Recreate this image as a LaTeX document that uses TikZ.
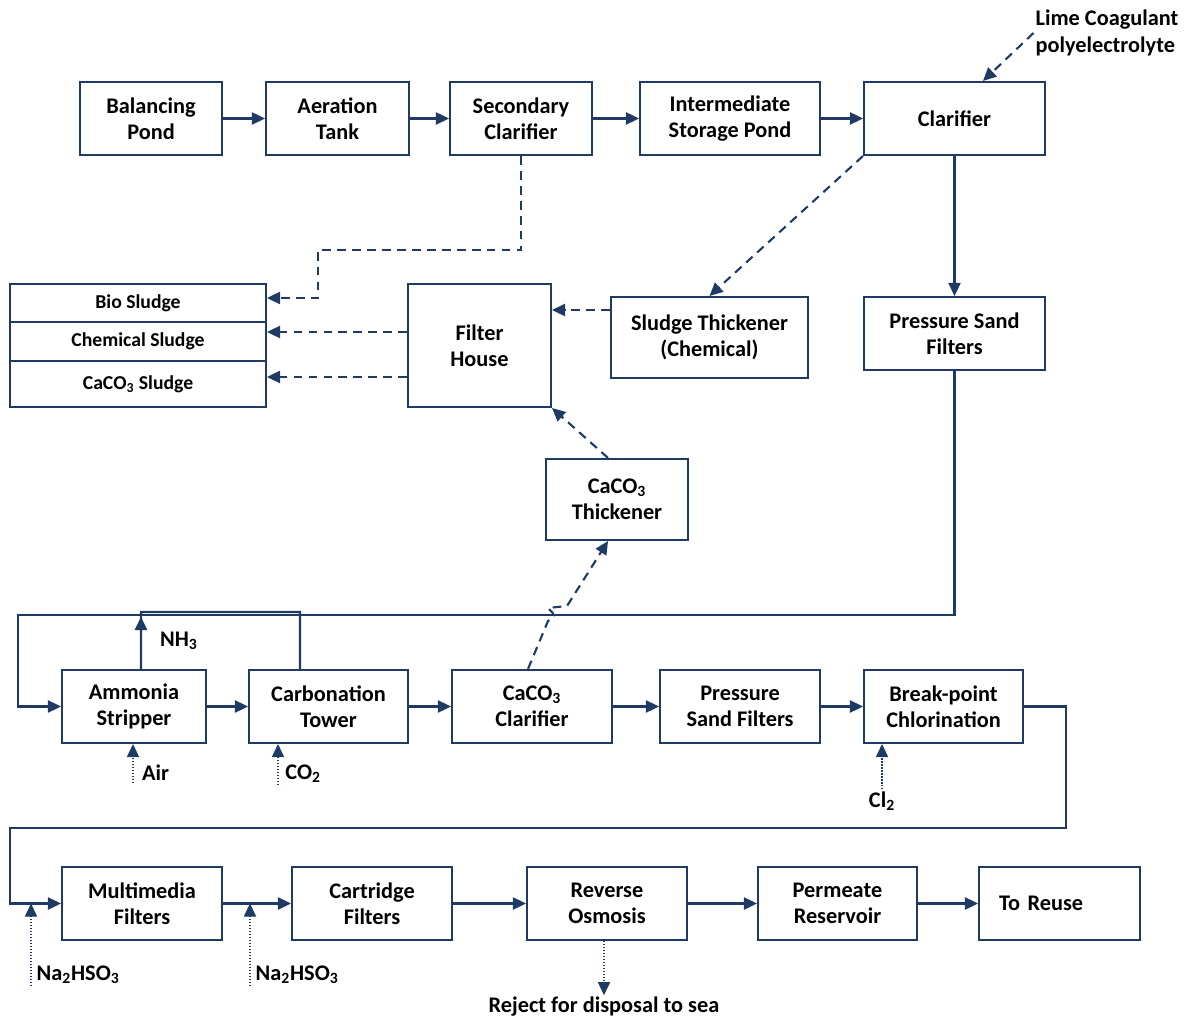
\documentclass[tikz,border=0pt]{standalone}
\usepackage{fontspec}
\setmainfont{Carlito}
\usetikzlibrary{arrows.meta}
\definecolor{flowblue}{HTML}{1F3B63}

\begin{document}
\begin{tikzpicture}[x=0.02cm,y=-0.02cm,
    unit/.style={draw=flowblue,line width=1.2pt,align=center,inner sep=1pt,minimum height=1.46cm,
        font=\fontsize{12.7}{15}\selectfont\bfseries},
    stack/.style={unit,font=\fontsize{11.2}{12}\selectfont\bfseries,minimum width=5.12cm},
    tag/.style={inner sep=1pt,align=left,font=\fontsize{12.7}{15}\selectfont\bfseries},
    line/.style={flowblue,line width=1.2pt},
    flow/.style={line,-{Triangle[length=7.5pt,width=7pt]}},
    sludge/.style={flow,dash pattern=on 5pt off 3.5pt},
    dose/.style={flow,line width=0.7pt,dash pattern=on 0.8pt off 0.9pt}]

    \useasboundingbox (0,0) rectangle (1187,1020);

    \node[unit,minimum width=2.84cm] (bal) at (151,118.5) {Balancing\\Pond};
    \node[unit,minimum width=2.86cm] (aer) at (337.5,118.5) {Aeration\\Tank};
    \node[unit,minimum width=2.84cm] (sec) at (521,118.5) {Secondary\\Clarifier};
    \node[unit,minimum width=3.6cm] (isp) at (730,118.5) {Intermediate\\Storage Pond};
    \node[unit,minimum width=3.62cm] (clar) at (954.5,118.5) {Clarifier};
    \node[tag] (lime) at (1107,33) {Lime Coagulant\\polyelectrolyte};

    \node[stack,minimum height=0.76cm] (bio) at (138,303) {Bio Sludge};
    \node[stack,minimum height=0.78cm] (chem) at (138,341.5) {Chemical Sludge};
    \node[stack,minimum height=0.92cm] (caco) at (138,384) {CaCO\textsubscript{3} Sludge};
    \node[unit,minimum width=2.86cm,minimum height=2.46cm] (fh) at (479.5,345.5) {Filter\\House};
    \node[unit,minimum width=3.94cm,minimum height=1.62cm] (sth) at (709.5,337.5) {Sludge Thickener\\(Chemical)};
    \node[unit,minimum width=3.62cm] (psf1) at (954.5,333.5) {Pressure Sand\\Filters};
    \node[unit,minimum width=2.84cm,minimum height=1.62cm] (cth) at (617,499.5) {CaCO\textsubscript{3}\\Thickener};

    \node[unit,minimum width=2.88cm] (amm) at (134,706.5) {Ammonia\\Stripper};
    \node[unit,minimum width=3.18cm] (carb) at (328.5,706.5) {Carbonation\\Tower};
    \node[unit,minimum width=3.2cm] (ccl) at (532,706.5) {CaCO\textsubscript{3}\\Clarifier};
    \node[unit,minimum width=3.2cm] (psf2) at (740,706.5) {Pressure\\Sand Filters};
    \node[unit,minimum width=3.18cm] (bpc) at (943.5,706.5) {Break-point\\Chlorination};
    \node[tag] (nh3) at (179,641) {NH\textsubscript{3}};
    \node[tag,anchor=west,inner xsep=5pt] (air) at (133,773) {Air};
    \node[tag,anchor=west,inner xsep=4pt] (co2) at (278,774) {CO\textsubscript{2}};
    \node[tag] (cl2) at (882,801) {Cl\textsubscript{2}};

    \node[unit,minimum width=3.2cm] (mmf) at (142,903.5) {Multimedia\\Filters};
    \node[unit,minimum width=3.2cm] (cart) at (372,903.5) {Cartridge\\Filters};
    \node[unit,minimum width=3.2cm] (ro) at (607,903.5) {Reverse\\Osmosis};
    \node[unit,minimum width=3.18cm] (perm) at (837.5,903.5) {Permeate\\Reservoir};
    \node[unit,align=left,inner xsep=0.4cm,text width=2.42cm] (reuse) at (1059.5,903.5) {To Reuse};
    \node[tag,anchor=west,inner xsep=3pt] (na1) at (31,975) {Na\textsubscript{2}HSO\textsubscript{3}};
    \node[tag,anchor=west,inner xsep=3pt] (na2) at (250,975) {Na\textsubscript{2}HSO\textsubscript{3}};
    \node[tag] (rej) at (604,1007) {Reject for disposal to sea};

    \draw[flow] (bal) -- (aer);
    \draw[flow] (aer) -- (sec);
    \draw[flow] (sec) -- (isp);
    \draw[flow] (isp) -- (clar);
    \draw[sludge] (lime.west) -- ([xshift=0.57cm]clar.north);

    \draw[sludge] (sec.south) |- (318,250) |- ([yshift=0.1cm]bio.east);
    \draw[sludge] ([yshift=0.27cm]fh.west) -- ([yshift=0.27cm]fh.west -| chem.east);
    \draw[sludge] ([yshift=-0.63cm]fh.west) -- ([yshift=-0.63cm]fh.west -| caco.east);
    \draw[sludge] ([yshift=0.55cm]sth.west) -- ([yshift=0.55cm]sth.west -| fh.east);
    \draw[sludge] (clar.south west) -- (sth.north);
    \draw[flow] (clar.south) -- (psf1.north);
    \draw[sludge] ([xshift=-0.18cm]cth.north) -- (fh.south east);
    \draw[sludge] ([xshift=-0.08cm]ccl.north) -- (548,621) .. controls (556,616) .. (548,608) -- (567,606) -- ([xshift=-0.18cm]cth.south);

    \draw[flow] (psf1.south) |- (18,615) |- (amm.west);
    \draw[line] ([xshift=0.14cm]amm.north) |- (300,612) -- ([xshift=-0.57cm]carb.north);
    \draw[flow] ([xshift=0.14cm]amm.north) -- ++(0,-52);
    \draw[flow] (amm) -- (carb);
    \draw[flow] (carb) -- (ccl);
    \draw[flow] (ccl) -- (psf2);
    \draw[flow] (psf2) -- (bpc);
    \draw[dose] (air.south west) -- (air.south west |- amm.south);
    \draw[dose] (co2.south west) -- (co2.south west |- carb.south);
    \draw[dose] (cl2.north) -- (cl2.north |- bpc.south);

    \draw[flow] (bpc.east) -| (1066,828) -- (10,828) |- (mmf.west);
    \draw[flow] (mmf) -- (cart);
    \draw[flow] (cart) -- (ro);
    \draw[flow] (ro) -- (perm);
    \draw[flow] (perm) -- (reuse);
    \draw[dose] (na1.south west) -- (na1.south west |- mmf.west);
    \draw[dose] (na2.south west) -- (na2.south west |- cart.west);
    \draw[dose] (ro.south -| rej.north) -- (rej.north);
\end{tikzpicture}
\end{document}
